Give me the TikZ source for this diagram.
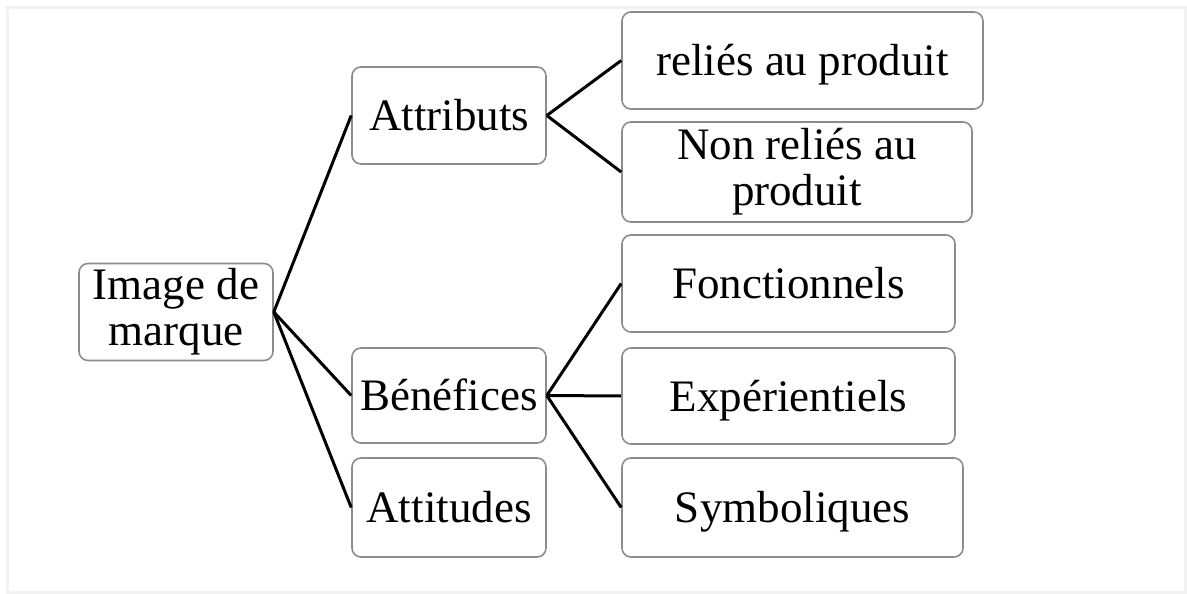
\documentclass[tikz,border=0pt]{standalone}
\usepackage{fontspec}
\setmainfont{Liberation Serif}
\definecolor{boxgray}{RGB}{140,140,140}
\definecolor{framegray}{RGB}{242,242,242}

\begin{document}
\begin{tikzpicture}[x=1pt,y=1pt,yscale=-1,xscale=1,
  box/.style={draw=boxgray, line width=1.6pt, rounded corners=9pt, fill=white,
    font=\fontsize{45}{46}\selectfont, inner sep=0pt},
  onebox/.style={box, text height=30pt, text depth=0pt},
  twobox/.style={box, align=center},
  link/.style={draw=black, line width=3pt}]
\useasboundingbox (0,0) rectangle (1187,594);
%Frame
\draw [framegray, line width=3pt] (7.5,7.5) rectangle (1185.5,592.5);

%Root
\node [twobox, minimum width=194pt, minimum height=97pt] (image) at (176,312) {Image de\\marque};
%Level 1
\node [onebox, minimum width=194pt, minimum height=97pt] (attributs) at (449,115.5) {Attributs};
\node [onebox, minimum width=194pt, minimum height=95pt] (benefices) at (449,395.5) {Bénéfices};
\node [onebox, minimum width=194pt, minimum height=99pt] (attitudes) at (449,507.5) {Attitudes};
%Level 2
\node [onebox, minimum width=361pt, minimum height=97pt] (relies) at (802.5,60.5) {reliés au produit};
\node [twobox, minimum width=350pt, minimum height=100pt] (nonrelies) at (797,172) {Non reliés au\\produit};
\node [onebox, minimum width=333pt, minimum height=97pt] (fonctionnels) at (788.5,283.5) {Fonctionnels};
\node [onebox, minimum width=333pt, minimum height=96pt] (experientiels) at (788.5,396) {Expérientiels};
\node [onebox, minimum width=341pt, minimum height=99pt] (symboliques) at (792.5,507.5) {Symboliques};

%Connectors
\foreach \to in {attributs,benefices,attitudes}
  \draw [link] (image.east) -- (\to.west);
\foreach \to in {relies,nonrelies}
  \draw [link] (attributs.east) -- (\to.west);
\foreach \to in {fonctionnels,experientiels,symboliques}
  \draw [link] (benefices.east) -- (\to.west);

\end{tikzpicture}
\end{document}
